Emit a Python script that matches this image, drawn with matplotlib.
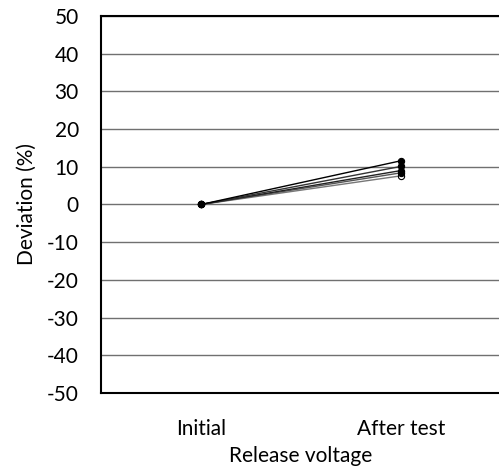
import matplotlib
matplotlib.use("Agg")
import matplotlib.pyplot as plt

plt.rcParams['font.family'] = ['Lato', 'DejaVu Sans']

categories = ["Initial", "After test"]
series = [
    [0, 11.6],
    [0, 10.1],
    [0, 9.0],
    [0, 8.4],
    [0, 7.6],
]
line_colors = ["black", "#333333", "#222222", "#555555", "#777777"]
marker_faces = ["black", "black", "black", "black", "white"]
yticks = list(range(-50, 51, 10))

fig = plt.figure(figsize=(4.99, 4.69), dpi=100)
ax = fig.add_axes([0.2024, 0.162, 0.8016, 0.804])

x = [0.5, 1.5]
# draw in reverse so the filled markers sit on top at the shared start point
for vals, lc, mf in reversed(list(zip(series, line_colors, marker_faces))):
    ax.plot(x, vals, color=lc, lw=1.0, marker='o', markersize=4.5,
            markerfacecolor=mf, markeredgecolor='black', markeredgewidth=0.8,
            zorder=3)

ax.set_xlim(0, 2)
ax.set_ylim(-50, 50)
ax.set_yticks(yticks)
ax.set_yticklabels([str(v) for v in yticks])
ax.set_xticks(x)
ax.set_xticklabels(categories)
ax.tick_params(axis='both', length=0, labelsize=15)
ax.tick_params(axis='y', pad=16)
ax.tick_params(axis='x', pad=19)
ax.yaxis.grid(True, color='#707070', lw=1.0)
ax.set_axisbelow(True)

for s in ['left', 'top', 'bottom']:
    ax.spines[s].set_linewidth(1.5)
    ax.spines[s].set_color('black')
ax.spines['right'].set_visible(False)

ax.set_ylabel("Deviation (%)", fontsize=15, labelpad=7)
ax.set_xlabel("Release voltage", fontsize=15, labelpad=5)

fig.savefig("out.png", dpi=100)
